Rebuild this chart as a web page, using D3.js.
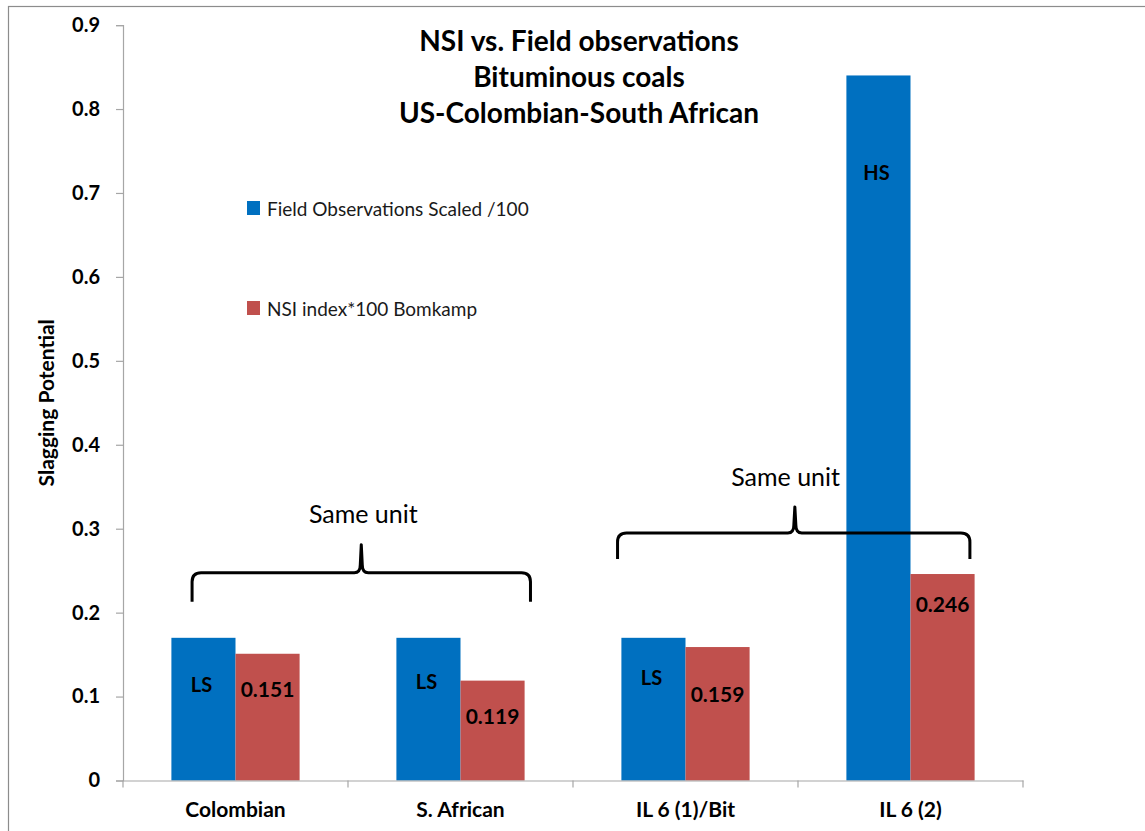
<!DOCTYPE html>
<html><head><meta charset="utf-8">
<script src="https://cdn.jsdelivr.net/npm/d3@7"></script>
<style>
html,body{margin:0;padding:0;background:#fff;}
svg{display:block;font-family:Lato,"Open Sans",sans-serif;}
</style></head>
<body><svg id="chart" width="1145" height="831"></svg>
<script>
// ---- data ----
const categories = ["Colombian", "S. African", "IL 6 (1)/Bit", "IL 6 (2)"];
const seriesNames = ["Field Observations Scaled /100", "NSI index*100 Bomkamp"];
const fieldObs = [0.17, 0.17, 0.17, 0.84];
const nsiIndex = [0.151, 0.119, 0.159, 0.246];
const fieldLabels = ["LS", "LS", "LS", "HS"];
const nsiLabels = ["0.151", "0.119", "0.159", "0.246"];
// label anchor values (in axis units) as placed in the original
const fieldLabelAt = [0.115, 0.119, 0.123, 0.725];
const nsiLabelAt = [0.110, 0.077, 0.104, 0.2105];
const yTicks = [0, 0.1, 0.2, 0.3, 0.4, 0.5, 0.6, 0.7, 0.8, 0.9];
const titleLines = ["NSI vs. Field observations", "Bituminous coals", "US-Colombian-South African"];
const yTitle = "Slagging Potential";
// brace annotations: positions in category units (0 = left edge of first band) and axis values
const braces = [
  {left: 0.307, right: 1.811, cusp: 1.059, ends: 0.213, bar: 0.2475, top: 0.281, text: "Same unit", tx: 1.068, ty: 0.319},
  {left: 2.198, right: 3.764, cusp: 2.986, ends: 0.264, bar: 0.295, top: 0.326, text: "Same unit", tx: 2.945, ty: 0.363}
];
const colors = ["#0070C0", "#C0504D"];

// ---- layout ----
const svg = d3.select("#chart");
const mLeft = 123, mRight = 1023, mTop = 25.1, mBottom = 780.5;

svg.append("rect").attr("x", 8.5).attr("y", 6.5).attr("width", 1160).attr("height", 860)
  .attr("fill", "none").attr("stroke", "#8c8c8c").attr("stroke-width", 1.2);

const y = d3.scaleLinear().domain([0, 0.9]).range([mBottom, mTop]);
const x0 = d3.scaleBand().domain(categories).range([mLeft, mRight]).paddingInner(0).paddingOuter(0);
const bw = x0.bandwidth();
const x1 = d3.scaleBand().domain(seriesNames).range([0, bw]).paddingInner(0).paddingOuter(0.755);
const xc = d3.scaleLinear().domain([0, categories.length]).range([mLeft, mRight]);

// y axis
const yAxis = d3.axisLeft(y).tickValues(yTicks).tickSize(7).tickPadding(16)
  .tickFormat(d => d === 0 ? "0" : d3.format(".1f")(d));
const gy = svg.append("g").attr("transform", `translate(${mLeft},0)`).call(yAxis);
gy.select(".domain").attr("stroke", "#a6a6a6").attr("stroke-width", 1.2);
gy.selectAll(".tick line").attr("stroke", "#a6a6a6").attr("stroke-width", 1.2);
gy.selectAll(".tick text").attr("font-family", "Lato, sans-serif").attr("font-size", 20)
  .attr("font-weight", "bold").attr("fill", "#000");

// bars
const groups = svg.append("g").selectAll("g").data(categories).join("g")
  .attr("transform", d => `translate(${x0(d)},0)`);
const seriesData = [fieldObs, nsiIndex];
groups.each(function(cat, i) {
  const g = d3.select(this);
  seriesNames.forEach((s, k) => {
    g.append("rect").attr("x", x1(s)).attr("width", x1.bandwidth())
      .attr("y", y(seriesData[k][i])).attr("height", y(0) - y(seriesData[k][i]))
      .attr("fill", colors[k]);
  });
  g.append("text").attr("x", x1(seriesNames[0]) + x1.bandwidth() / 2 - 2).attr("y", y(fieldLabelAt[i]))
    .attr("text-anchor", "middle").attr("dominant-baseline", "central")
    .attr("font-size", 20).attr("font-weight", "bold").attr("fill", "#000").text(fieldLabels[i]);
  g.append("text").attr("x", x1(seriesNames[1]) + x1.bandwidth() / 2).attr("y", y(nsiLabelAt[i]))
    .attr("text-anchor", "middle").attr("dominant-baseline", "central")
    .attr("font-size", 21).attr("font-weight", "bold").attr("fill", "#000").text(nsiLabels[i]);
});

// x axis
const xAxis = d3.axisBottom(x0).tickSize(0).tickPadding(22);
const gx = svg.append("g").attr("transform", `translate(0,${mBottom})`).call(xAxis);
gx.select(".domain").attr("stroke", "#a6a6a6").attr("stroke-width", 1.2);
gx.selectAll(".tick text").attr("font-family", "Lato, sans-serif").attr("font-size", 21)
  .attr("font-weight", "bold").attr("fill", "#000");
gx.selectAll(".sep").data(d3.range(categories.length + 1)).join("line")
  .attr("class", "sep")
  .attr("x1", d => xc(d)).attr("x2", d => xc(d)).attr("y1", 0).attr("y2", 7)
  .attr("stroke", "#a6a6a6").attr("stroke-width", 1.2);

// y title
svg.append("text").attr("transform", `translate(45,${(y(0.45))}) rotate(-90)`)
  .attr("text-anchor", "middle").attr("dominant-baseline", "central")
  .attr("font-size", 21).attr("font-weight", "bold").attr("fill", "#000").text(yTitle);

// title
svg.append("g").selectAll("text").data(titleLines).join("text")
  .attr("x", 579).attr("y", (d, i) => 40 + i * 36)
  .attr("text-anchor", "middle").attr("dominant-baseline", "central")
  .attr("font-size", 28).attr("font-weight", "bold").attr("fill", "#000").text(d => d);

// legend
const leg = svg.append("g").selectAll("g").data(seriesNames).join("g")
  .attr("transform", (d, i) => `translate(247,${208 + i * 100})`);
leg.append("rect").attr("x", 0).attr("y", -7).attr("width", 13).attr("height", 14)
  .attr("fill", (d, i) => colors[i]);
leg.append("text").attr("x", 20).attr("y", 0).attr("dominant-baseline", "central")
  .attr("font-size", 19).attr("fill", "#1a1a1a").text(d => d);

// braces
braces.forEach(b => {
  const L = xc(b.left), R = xc(b.right), C = xc(b.cusp);
  const E = y(b.ends), H = y(b.bar), T = y(b.top);
  const r = 9;
  const p = d3.path();
  p.moveTo(L, E);
  p.lineTo(L, H + r);
  p.quadraticCurveTo(L, H, L + r, H);
  p.lineTo(C - 7, H);
  p.quadraticCurveTo(C - 1, H, C - 1, H - 8);
  p.lineTo(C, T);
  p.lineTo(C + 1, H - 8);
  p.quadraticCurveTo(C + 1, H, C + 7, H);
  p.lineTo(R - r, H);
  p.quadraticCurveTo(R, H, R, H + r);
  p.lineTo(R, E);
  svg.append("path").attr("d", p.toString()).attr("fill", "none")
    .attr("stroke", "#000").attr("stroke-width", 3).attr("stroke-linejoin", "round");
  svg.append("text").attr("x", xc(b.tx)).attr("y", y(b.ty))
    .attr("text-anchor", "middle").attr("dominant-baseline", "central")
    .attr("font-size", 25).attr("fill", "#000").text(b.text);
});
</script></body></html>
